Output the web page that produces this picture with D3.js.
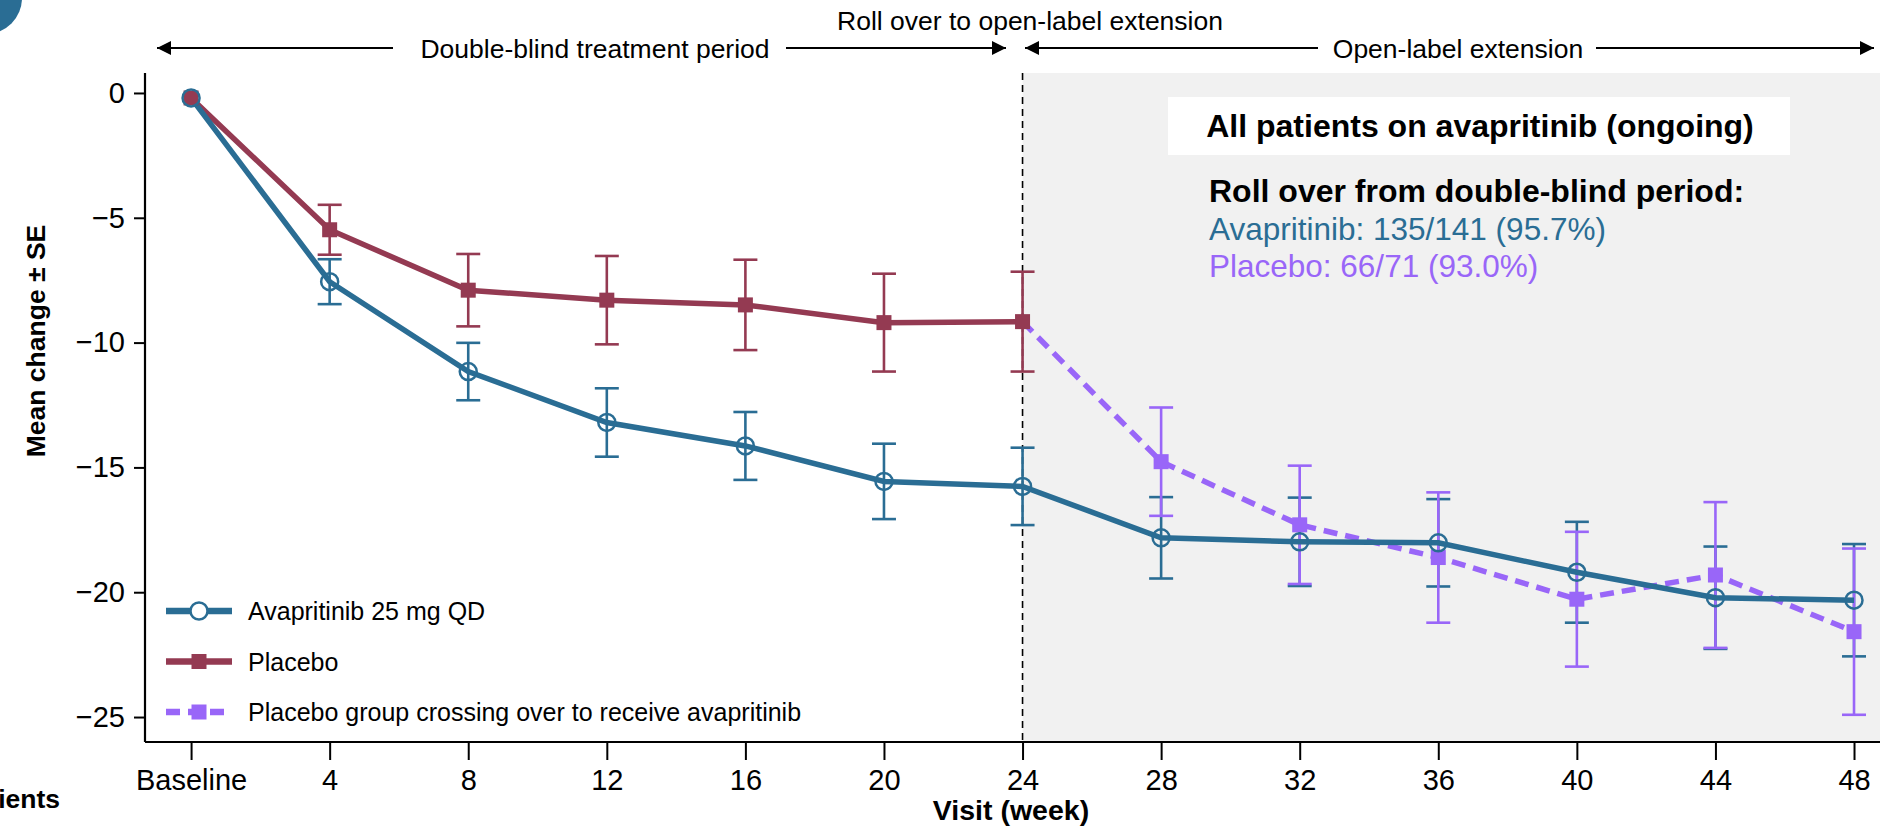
<!DOCTYPE html>
<html>
<head>
<meta charset="utf-8">
<script src="https://cdn.jsdelivr.net/npm/d3@7"></script>
<style>
    body { margin: 0; background: #fff; }
    svg { display: block; }
    text { font-family: "Liberation Sans", Arial, sans-serif; }
    .bold { font-weight: bold; }
</style>
</head>
<body>
<div id="chart"></div>
<script>
// data
const weeks = [0, 4, 8, 12, 16, 20, 24, 28, 32, 36, 40, 44, 48];
const tickLabels = ['Baseline', '4', '8', '12', '16', '20', '24', '28', '32', '36', '40', '44', '48'];

const avaMean = [-0.2, -7.56, -11.16, -13.2, -14.14, -15.56, -15.76, -17.82, -17.98, -18.02, -19.2, -20.22, -20.32];
const avaSE   = [0, 0.9, 1.15, 1.37, 1.36, 1.51, 1.55, 1.63, 1.77, 1.75, 2.02, 2.05, 2.25];

const pboWeeks = [0, 4, 8, 12, 16, 20, 24];
const pboMean = [-0.2, -5.48, -7.9, -8.3, -8.49, -9.2, -9.16];
const pboSE   = [0, 1.0, 1.45, 1.77, 1.81, 1.96, 2.0];

const crossWeeks = [28, 32, 36, 40, 44, 48];
const crossMean = [-14.77, -17.3, -18.61, -20.28, -19.31, -21.58];
const crossSE   = [2.17, 2.37, 2.61, 2.7, 2.92, 3.33];

const yTicks = [0, -5, -10, -15, -20, -25];
const legendLabels = ['Avapritinib 25 mg QD', 'Placebo', 'Placebo group crossing over to receive avapritinib'];

// layout
const W = 1896, H = 826;
const PLOT = {left: 145, right: 1880, top: 73, bottom: 742};
const BLUE = '#2a6d94';
const RED = '#943a52';
const PURPLE = '#9966f8';

const svg = d3.select('#chart')
    .append('svg')
    .attr('width', W)
    .attr('height', H)
;

const x = d3.scaleLinear().domain([-1.33, 48.75]).range([PLOT.left, PLOT.right]);
const y = d3.scaleLinear().domain([-26, 0.8]).range([PLOT.bottom, PLOT.top]);

// corner badge
svg.append('circle')
    .attr('cx', -14).attr('cy', -2).attr('r', 36)
    .attr('fill', BLUE)
;

// open-label shading
svg.append('rect')
    .attr('x', x(24))
    .attr('y', PLOT.top)
    .attr('width', PLOT.right - x(24))
    .attr('height', PLOT.bottom - PLOT.top)
    .attr('fill', '#f1f1f1')
;
svg.append('line')
    .attr('x1', x(24)).attr('x2', x(24))
    .attr('y1', PLOT.top).attr('y2', PLOT.bottom)
    .attr('stroke', '#000')
    .attr('stroke-width', 1.6)
    .attr('stroke-dasharray', '7,5')
;

// axes
const xAxis = d3.axisBottom(x)
    .tickValues(weeks)
    .tickFormat((d, i) => tickLabels[i])
    .tickSize(18)
    .tickSizeOuter(0)
    .tickPadding(9)
;
const gx = svg.append('g')
    .attr('transform', `translate(0,${PLOT.bottom})`)
    .call(xAxis)
;
const yAxis = d3.axisLeft(y)
    .tickValues(yTicks)
    .tickSize(11)
    .tickSizeOuter(0)
    .tickPadding(9)
;
const gy = svg.append('g')
    .attr('transform', `translate(${PLOT.left},0)`)
    .call(yAxis)
;
[gx, gy].forEach(g => {
    g.select('.domain').attr('stroke-width', 2.2);
    g.selectAll('.tick line').attr('stroke-width', 2);
    g.selectAll('.tick text')
        .attr('font-size', 29)
        .attr('fill', '#000')
        .style('font-family', '"Liberation Sans", Arial, sans-serif')
    ;
});
gx.select('.domain').attr('d', `M${PLOT.left},0H${PLOT.right}`);
gy.select('.domain').attr('d', `M0,${PLOT.bottom}V${PLOT.top}`);

// axis titles
svg.append('text')
    .attr('class', 'bold')
    .attr('transform', 'translate(45,341) rotate(-90)')
    .attr('text-anchor', 'middle')
    .attr('font-size', 26.5)
    .text('Mean change ± SE')
;
svg.append('text')
    .attr('class', 'bold')
    .attr('x', 1011)
    .attr('y', 820)
    .attr('text-anchor', 'middle')
    .attr('font-size', 28.5)
    .text('Visit (week)')
;
svg.append('text')
    .attr('class', 'bold')
    .attr('x', 60)
    .attr('y', 808)
    .attr('text-anchor', 'end')
    .attr('font-size', 26.5)
    .text('Patients')
;

// period arrows
const defs = svg.append('defs');
defs.append('marker')
    .attr('id', 'arrow')
    .attr('viewBox', '0 0 10 10')
    .attr('refX', 10).attr('refY', 5)
    .attr('markerWidth', 18).attr('markerHeight', 14)
    .attr('markerUnits', 'userSpaceOnUse')
    .attr('orient', 'auto-start-reverse')
    .append('path')
    .attr('d', 'M0,0L10,5L0,10Z')
    .attr('fill', '#000')
;
const ARROW_Y = 48;
const arrows = [
    [157, 393, 'start'], [786, 1006, 'end'],
    [1025, 1318, 'start'], [1596, 1874, 'end']
];
arrows.forEach(a => {
    svg.append('line')
        .attr('x1', a[0]).attr('x2', a[1])
        .attr('y1', ARROW_Y).attr('y2', ARROW_Y)
        .attr('stroke', '#000')
        .attr('stroke-width', 2)
        .attr(a[2] === 'start' ? 'marker-start' : 'marker-end', 'url(#arrow)')
    ;
});

const periodText = [
    [595, ARROW_Y + 9.5, 'Double-blind treatment period'],
    [1030, 30, 'Roll over to open-label extension'],
    [1458, ARROW_Y + 9.5, 'Open-label extension']
];
svg.selectAll('.period')
    .data(periodText)
    .join('text')
    .attr('class', 'period')
    .attr('x', d => d[0])
    .attr('y', d => d[1])
    .attr('text-anchor', 'middle')
    .attr('font-size', 26.5)
    .text(d => d[2])
;

// info box
svg.append('rect')
    .attr('x', 1168).attr('y', 97)
    .attr('width', 622).attr('height', 58)
    .attr('fill', '#fff')
;
svg.append('text')
    .attr('class', 'bold')
    .attr('x', 1480).attr('y', 137)
    .attr('text-anchor', 'middle')
    .attr('font-size', 32)
    .text('All patients on avapritinib (ongoing)')
;
svg.append('text')
    .attr('class', 'bold')
    .attr('x', 1209).attr('y', 202)
    .attr('font-size', 32)
    .text('Roll over from double-blind period:')
;
svg.append('text')
    .attr('x', 1209).attr('y', 240)
    .attr('font-size', 31.5)
    .attr('fill', BLUE)
    .text('Avapritinib: 135/141 (95.7%)')
;
svg.append('text')
    .attr('x', 1209).attr('y', 277)
    .attr('font-size', 31.5)
    .attr('fill', PURPLE)
    .text('Placebo: 66/71 (93.0%)')
;

// error bars
function errorBars(xs, means, ses, color) {
    const g = svg.append('g')
        .attr('stroke', color)
        .attr('stroke-width', 2.6)
    ;
    const pts = xs.map((w, i) => ({w: w, m: means[i], s: ses[i]})).filter(d => d.s > 0);
    g.selectAll('.v').data(pts).join('line')
        .attr('x1', d => x(d.w)).attr('x2', d => x(d.w))
        .attr('y1', d => y(d.m + d.s)).attr('y2', d => y(d.m - d.s))
    ;
    [1, -1].forEach(sg => {
        g.selectAll('.c' + sg).data(pts).join('line')
            .attr('x1', d => x(d.w) - 12).attr('x2', d => x(d.w) + 12)
            .attr('y1', d => y(d.m + sg * d.s)).attr('y2', d => y(d.m + sg * d.s))
        ;
    });
}
errorBars(weeks, avaMean, avaSE, BLUE);
errorBars(pboWeeks, pboMean, pboSE, RED);
errorBars(crossWeeks, crossMean, crossSE, PURPLE);

// lines
const line = d3.line().x(d => x(d[0])).y(d => y(d[1]));
const crossPts = [[24, pboMean[pboMean.length - 1]]]
    .concat(crossWeeks.map((w, i) => [w, crossMean[i]]));
svg.append('path')
    .datum(crossPts)
    .attr('d', line)
    .attr('fill', 'none')
    .attr('stroke', PURPLE)
    .attr('stroke-width', 5.5)
    .attr('stroke-dasharray', '14,8')
;
svg.append('path')
    .datum(pboWeeks.map((w, i) => [w, pboMean[i]]))
    .attr('d', line)
    .attr('fill', 'none')
    .attr('stroke', RED)
    .attr('stroke-width', 5.5)
;
svg.append('path')
    .datum(weeks.map((w, i) => [w, avaMean[i]]))
    .attr('d', line)
    .attr('fill', 'none')
    .attr('stroke', BLUE)
    .attr('stroke-width', 5.5)
;

// markers
const SQ = 15;
svg.append('g').selectAll('rect')
    .data(crossWeeks.map((w, i) => [w, crossMean[i]]))
    .join('rect')
    .attr('x', d => x(d[0]) - SQ / 2).attr('y', d => y(d[1]) - SQ / 2)
    .attr('width', SQ).attr('height', SQ)
    .attr('fill', PURPLE)
;
svg.append('g').selectAll('rect')
    .data(pboWeeks.map((w, i) => [w, pboMean[i]]))
    .join('rect')
    .attr('x', d => x(d[0]) - SQ / 2).attr('y', d => y(d[1]) - SQ / 2)
    .attr('width', SQ).attr('height', SQ)
    .attr('fill', RED)
;
svg.append('g').selectAll('circle')
    .data(weeks.map((w, i) => [w, avaMean[i]]))
    .join('circle')
    .attr('cx', d => x(d[0])).attr('cy', d => y(d[1]))
    .attr('r', 8.5)
    .attr('fill', 'none')
    .attr('stroke', BLUE)
    .attr('stroke-width', 2.5)
;

// legend
const LEG_X = 166, LEG_Y = 611, LEG_GAP = 50.5;
const legColors = [BLUE, RED, PURPLE];
legendLabels.forEach((lab, i) => {
    const ly = LEG_Y + i * LEG_GAP;
    svg.append('line')
        .attr('x1', LEG_X).attr('x2', LEG_X + 66)
        .attr('y1', ly).attr('y2', ly)
        .attr('stroke', legColors[i])
        .attr('stroke-width', 6.5)
        .attr('stroke-dasharray', i === 2 ? '14,8' : null)
    ;
    if (i === 0) {
        svg.append('circle')
            .attr('cx', LEG_X + 33).attr('cy', ly).attr('r', 8.5)
            .attr('fill', '#fff').attr('stroke', BLUE).attr('stroke-width', 2.5)
        ;
    } else {
        svg.append('rect')
            .attr('x', LEG_X + 33 - SQ / 2).attr('y', ly - SQ / 2)
            .attr('width', SQ).attr('height', SQ)
            .attr('fill', legColors[i])
        ;
    }
    svg.append('text')
        .attr('x', 248).attr('y', ly + 9)
        .attr('font-size', 25)
        .text(lab)
    ;
});
</script>
</body>
</html>
